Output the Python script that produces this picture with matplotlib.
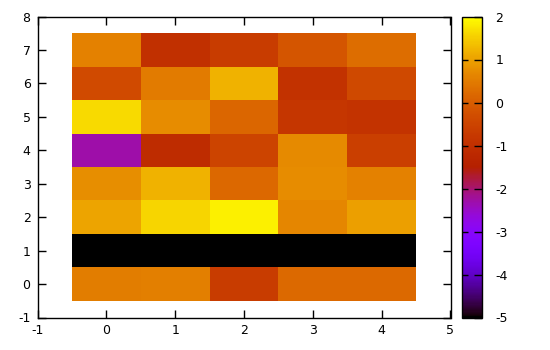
import numpy as np
import matplotlib
matplotlib.use("Agg")
import matplotlib.pyplot as plt
import matplotlib.transforms as mtransforms

plt.rcParams["axes.unicode_minus"] = False

x_cols = [0, 1, 2, 3, 4]
y_rows = [0, 1, 2, 3, 4, 5, 6, 7]
# values[row][col], row 0 = bottom
row0 = [0.50, 0.53, -0.68, 0.20, 0.22]
row1 = [-5.0, -5.0, -5.0, -5.0, -5.0]
row2 = [1.04, 1.58, 1.86, 0.65, 0.97]
row3 = [0.76, 1.20, 0.18, 0.74, 0.57]
row4 = [-2.31, -1.10, -0.51, 0.70, -0.60]
row5 = [1.62, 0.72, 0.16, -0.83, -0.90]
row6 = [-0.37, 0.48, 1.19, -0.95, -0.40]
row7 = [0.57, -0.99, -0.68, -0.15, 0.26]
values = np.array([row0, row1, row2, row3, row4, row5, row6, row7])

xticks = [-1, 0, 1, 2, 3, 4, 5]
yticks = [-1, 0, 1, 2, 3, 4, 5, 6, 7, 8]
cbticks = [-5, -4, -3, -2, -1, 0, 1, 2]

fig = plt.figure(figsize=(5.5, 3.5), dpi=100)
W, H = 550, 350
ax = fig.add_axes([37.5 / W, (H - 317.5) / H, (450.5 - 37.5) / W, (317.5 - 16.5) / H])
cax = fig.add_axes([461.5 / W, (H - 317.5) / H, 20 / W, (317.5 - 16.5) / H])

xe = np.arange(len(x_cols) + 1) - 0.5
ye = np.arange(len(y_rows) + 1) - 0.5
mesh = ax.pcolormesh(xe, ye, values, cmap="gnuplot", vmin=-5, vmax=2, shading="flat")
ax.set_xlim(-1, 5)
ax.set_ylim(-1, 8)
ax.set_xticks(xticks)
ax.set_yticks(yticks)
ax.tick_params(direction="in", length=6, width=1, top=True, right=True,
               labelsize=9, pad=5, colors="black")
for s in ax.spines.values():
    s.set_linewidth(1)

cb = fig.colorbar(mesh, cax=cax, ticks=cbticks)
cb.outline.set_linewidth(1)
cax.tick_params(direction="in", length=6, width=1, labelsize=9, pad=10)
# ticks on left edge of colour box too (gnuplot style)
trans = mtransforms.blended_transform_factory(cax.transAxes, cax.transData)
cax.hlines(cbticks[1:-1], 0, 0.3, transform=trans, colors="black", linewidth=1, zorder=5)

fig.savefig("out.png", dpi=100)
